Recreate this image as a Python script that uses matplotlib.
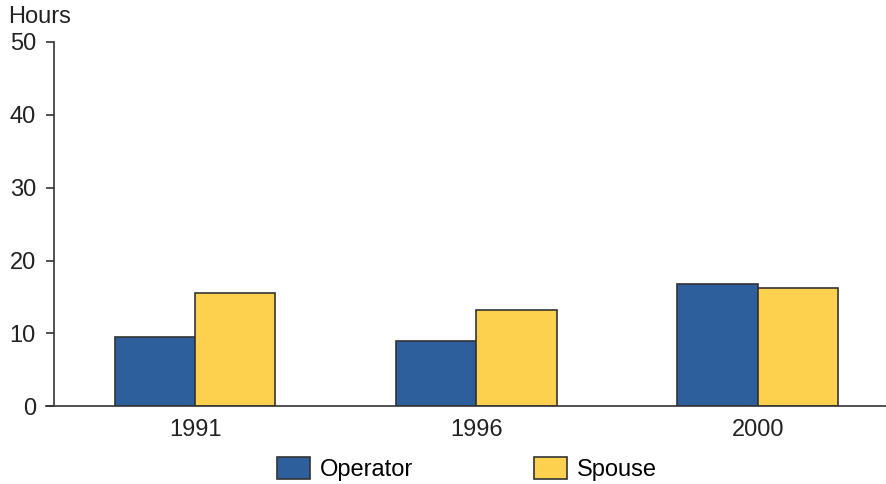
import matplotlib
matplotlib.use("Agg")
import matplotlib.pyplot as plt
import numpy as np

plt.rcParams['font.family'] = ['Liberation Sans', 'DejaVu Sans']

years = ["1991", "1996", "2000"]
operator = [9.5, 8.9, 16.8]
spouse = [15.5, 13.2, 16.2]
series_names = ["Operator", "Spouse"]
yticks = [0, 10, 20, 30, 40, 50]

blue = "#2C5F9B"
yellow = "#FDD14D"
edge = "#333333"
fs = 17

fig = plt.figure(figsize=(8.87, 4.84), dpi=100)
ax = fig.add_axes([54/887, 1-406.3/484, 1-54/887, (406.3-42)/484])

x = np.arange(len(years))
w = 0.285
b1 = ax.bar(x - w/2, operator, w, color=blue, edgecolor=edge, linewidth=1.2, label=series_names[0])
b2 = ax.bar(x + w/2, spouse, w, color=yellow, edgecolor=edge, linewidth=1.2, label=series_names[1])

ax.set_xlim(-0.502, 2.46)
ax.set_ylim(0, 50)
ax.set_yticks(yticks)
ax.set_xticks(x)
ax.set_xticklabels(years)
ax.tick_params(axis='y', direction='out', length=6, width=1.2, color=edge, labelsize=fs, pad=7, labelcolor='#222222')
ax.tick_params(axis='x', length=0, labelsize=fs, pad=9, labelcolor='#222222')
for s in ['top', 'right']:
    ax.spines[s].set_visible(False)
for s in ['left', 'bottom']:
    ax.spines[s].set_color(edge)
    ax.spines[s].set_linewidth(1.2)
ax.spines['bottom'].set_bounds(-0.53, 2.46)

fig.text(8/887, 1-17/484, "Hours", fontsize=fs, va='center', ha='left', color='#222222')

leg = fig.legend(handles=[b1, b2], labels=series_names, loc='center left',
                 bbox_to_anchor=(277/887, 1-469/484), ncol=2, frameon=False,
                 fontsize=fs, handlelength=1.4, handleheight=1.02,
                 handletextpad=0.42, columnspacing=5.1, borderpad=0, borderaxespad=0)

fig.savefig("out.png", dpi=100)
